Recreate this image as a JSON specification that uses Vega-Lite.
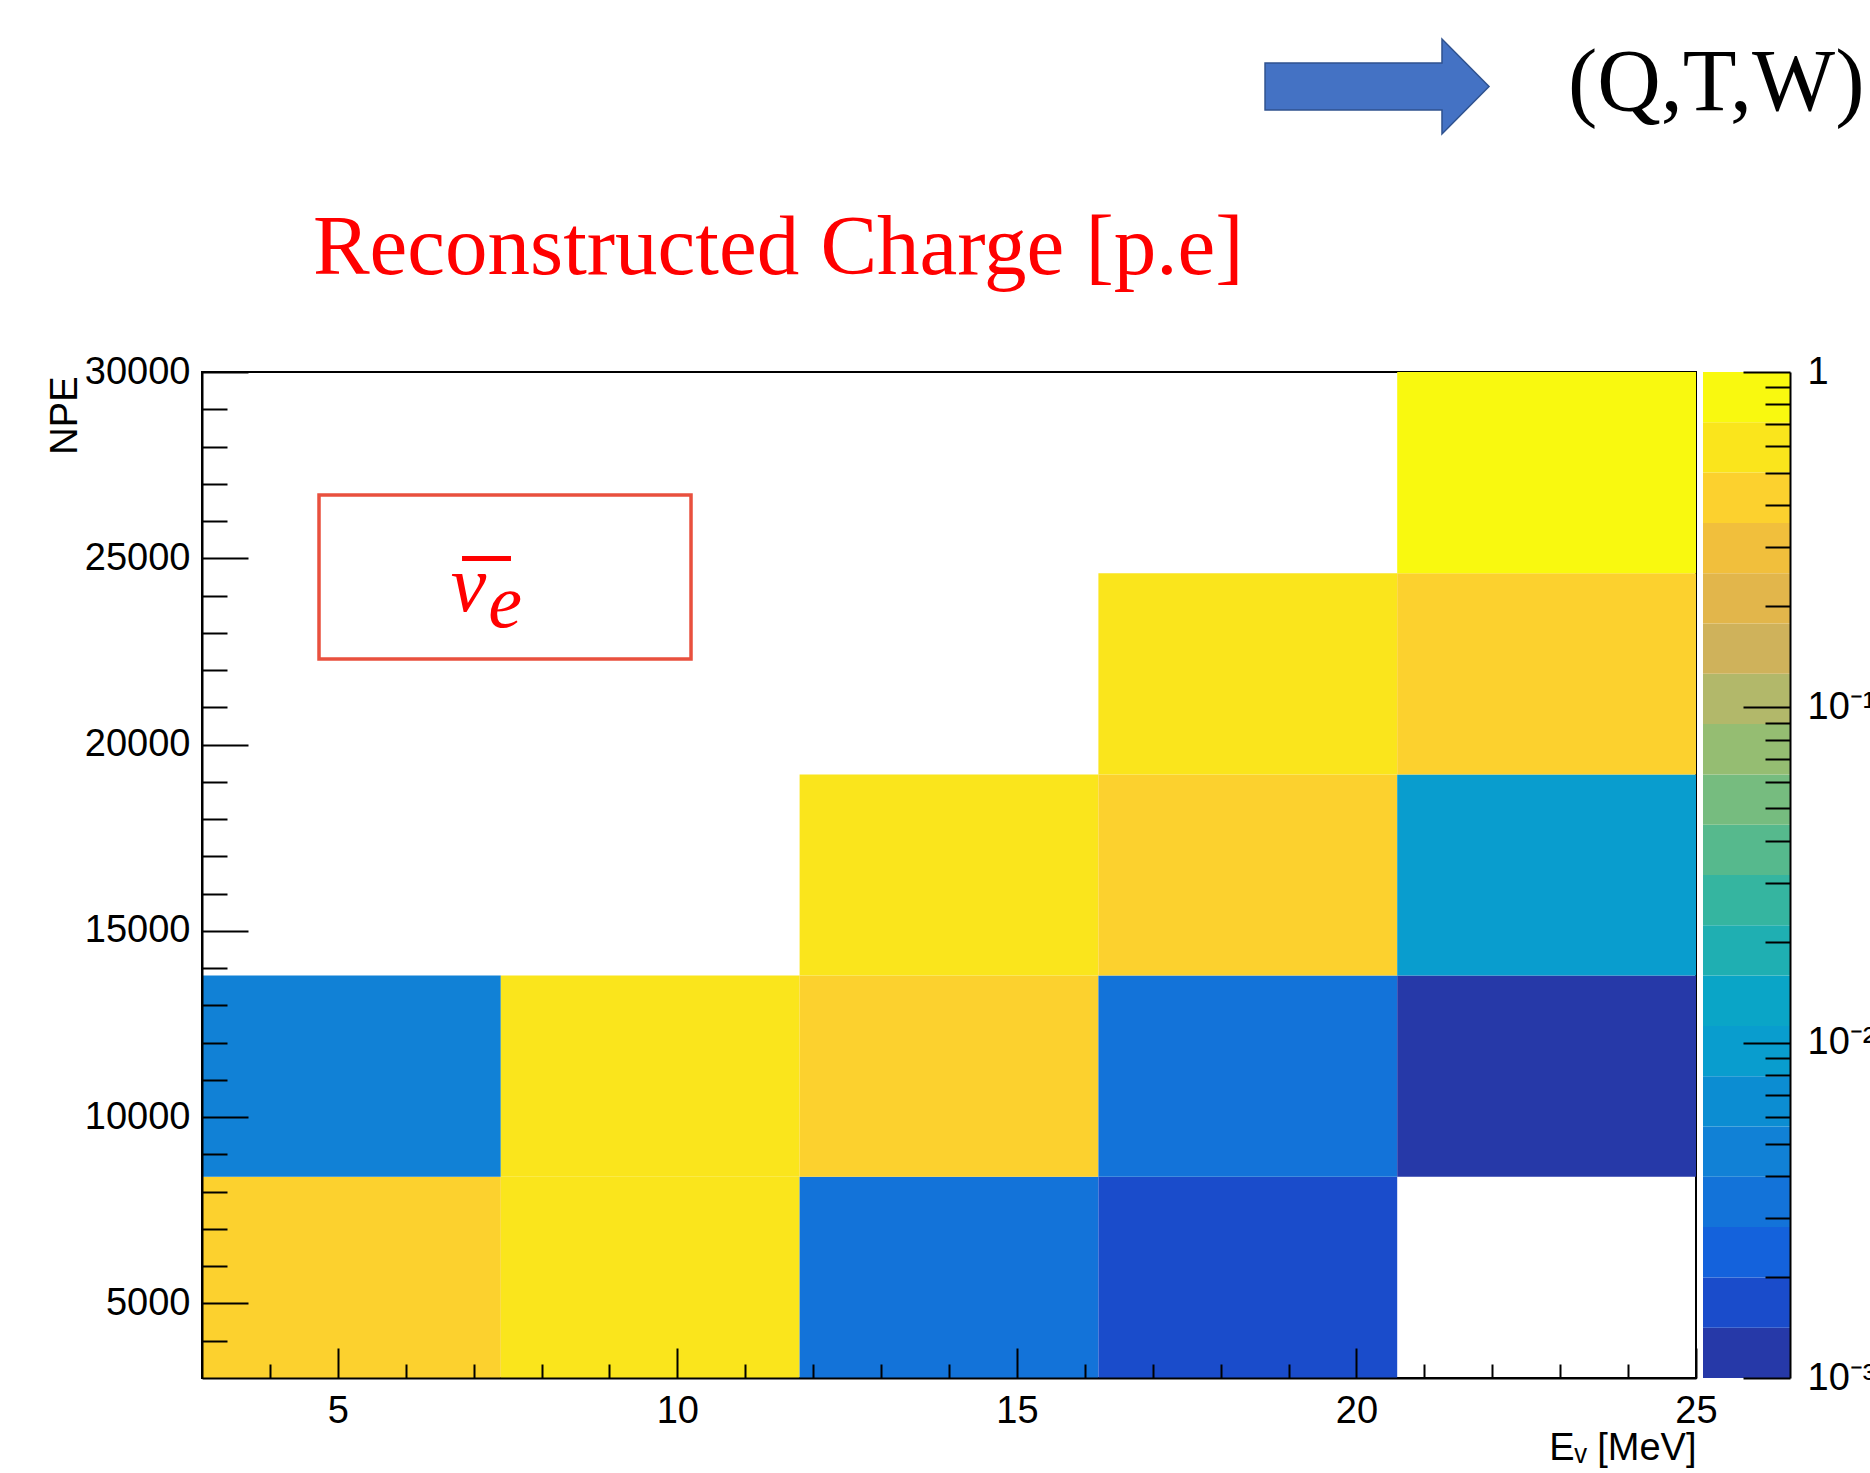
{
  "$schema": "https://vega.github.io/schema/vega-lite/v6.json",
  "width": 1494,
  "height": 1006,
  "autosize": {"type": "none"},
  "padding": {"left": 202, "top": 372, "right": 174, "bottom": 95},
  "background": "white",
  "config": {
    "view": {"stroke": "black", "strokeWidth": 2},
    "axis": {
      "grid": false,
      "labelFont": "Liberation Sans",
      "labelFontSize": 38,
      "labelColor": "black",
      "labelFlush": false,
      "labelOverlap": false,
      "tickColor": "black",
      "tickWidth": 2,
      "domainColor": "black",
      "domainWidth": 2,
      "titleFont": "Liberation Sans",
      "titleFontSize": 38,
      "titleFontWeight": "normal",
      "titleColor": "black"
    }
  },
  "datasets": {
    "cells": [
      {"e_lo": 3, "e_hi": 7.4, "npe_lo": 3000, "npe_hi": 8400, "z": 0.42},
      {"e_lo": 7.4, "e_hi": 11.8, "npe_lo": 3000, "npe_hi": 8400, "z": 0.6},
      {"e_lo": 11.8, "e_hi": 16.2, "npe_lo": 3000, "npe_hi": 8400, "z": 0.0033},
      {"e_lo": 16.2, "e_hi": 20.6, "npe_lo": 3000, "npe_hi": 8400, "z": 0.0017},
      {"e_lo": 3, "e_hi": 7.4, "npe_lo": 8400, "npe_hi": 13800, "z": 0.0047},
      {"e_lo": 7.4, "e_hi": 11.8, "npe_lo": 8400, "npe_hi": 13800, "z": 0.6},
      {"e_lo": 11.8, "e_hi": 16.2, "npe_lo": 8400, "npe_hi": 13800, "z": 0.42},
      {"e_lo": 16.2, "e_hi": 20.6, "npe_lo": 8400, "npe_hi": 13800, "z": 0.0033},
      {"e_lo": 20.6, "e_hi": 25, "npe_lo": 8400, "npe_hi": 13800, "z": 0.0012},
      {"e_lo": 11.8, "e_hi": 16.2, "npe_lo": 13800, "npe_hi": 19200, "z": 0.6},
      {"e_lo": 16.2, "e_hi": 20.6, "npe_lo": 13800, "npe_hi": 19200, "z": 0.42},
      {"e_lo": 20.6, "e_hi": 25, "npe_lo": 13800, "npe_hi": 19200, "z": 0.0095},
      {"e_lo": 16.2, "e_hi": 20.6, "npe_lo": 19200, "npe_hi": 24600, "z": 0.6},
      {"e_lo": 20.6, "e_hi": 25, "npe_lo": 19200, "npe_hi": 24600, "z": 0.42},
      {"e_lo": 20.6, "e_hi": 25, "npe_lo": 24600, "npe_hi": 30000, "z": 0.85}
    ],
    "bands": [
      {"lo": 0.001, "hi": 0.0014125},
      {"lo": 0.0014125, "hi": 0.0019953},
      {"lo": 0.0019953, "hi": 0.0028184},
      {"lo": 0.0028184, "hi": 0.0039811},
      {"lo": 0.0039811, "hi": 0.0056234},
      {"lo": 0.0056234, "hi": 0.0079433},
      {"lo": 0.0079433, "hi": 0.0112202},
      {"lo": 0.0112202, "hi": 0.0158489},
      {"lo": 0.0158489, "hi": 0.0223872},
      {"lo": 0.0223872, "hi": 0.0316228},
      {"lo": 0.0316228, "hi": 0.0446684},
      {"lo": 0.0446684, "hi": 0.0630957},
      {"lo": 0.0630957, "hi": 0.0891251},
      {"lo": 0.0891251, "hi": 0.1258925},
      {"lo": 0.1258925, "hi": 0.1778279},
      {"lo": 0.1778279, "hi": 0.2511886},
      {"lo": 0.2511886, "hi": 0.3548134},
      {"lo": 0.3548134, "hi": 0.5011872},
      {"lo": 0.5011872, "hi": 0.7079458},
      {"lo": 0.7079458, "hi": 1}
    ]
  },
  "layer": [
    {
      "layer": [
        {
          "data": {"name": "cells"},
          "mark": {"type": "rect"},
          "encoding": {
            "x": {"field": "e_lo", "type": "quantitative", "scale": {"domain": [3, 25], "nice": false, "zero": false},
              "axis": {"orient": "bottom", "zindex": 1, "values": [5, 10, 15, 20, 25], "tickSize": -30, "labelPadding": 44,
                "title": "Eᵥ [MeV]", "titleX": 1494, "titleY": 81, "titleAlign": "right", "titleBaseline": "alphabetic", "titleAngle": 0}},
            "x2": {"field": "e_hi"},
            "y": {"field": "npe_lo", "type": "quantitative", "scale": {"domain": [3000, 30000], "nice": false, "zero": false},
              "axis": {"orient": "left", "zindex": 1, "values": [5000, 10000, 15000, 20000, 25000, 30000], "format": "d", "tickSize": -46, "labelPadding": 58,
                "title": "NPE", "titleAngle": 270, "titleX": -126, "titleY": 4, "titleAlign": "right", "titleBaseline": "alphabetic"}},
            "y2": {"field": "npe_hi"},
            "color": {"field": "z", "type": "quantitative", "legend": null,
              "scale": {"type": "threshold",
                "domain": [0.0014125, 0.0019953, 0.0028184, 0.0039811, 0.0056234, 0.0079433, 0.0112202, 0.0158489, 0.0223872, 0.0316228, 0.0446684, 0.0630957, 0.0891251, 0.1258925, 0.1778279, 0.2511886, 0.3548134, 0.5011872, 0.7079458],
                "range": ["#2639A8", "#1A4CCB", "#1462DC", "#1373D9", "#1181D6", "#0C8DD2", "#099DCE", "#0AA5C7", "#1FAFB2", "#35B5A0", "#56B98D", "#76BC7F", "#95BD72", "#B2B86A", "#CFB25B", "#E2B64B", "#F1BF3C", "#FCD12E", "#FAE51C", "#F9F90F"]}}
          }
        },
        {
          "data": {"name": "cells"},
          "mark": {"type": "point", "opacity": 0},
          "encoding": {
            "x": {"field": "e_lo", "type": "quantitative", "scale": {"domain": [3, 25], "nice": false, "zero": false},
              "axis": {"orient": "bottom", "zindex": 1, "values": [4, 6, 7, 8, 9, 11, 12, 13, 14, 16, 17, 18, 19, 21, 22, 23, 24], "tickSize": -14, "labels": false, "domain": false, "title": null}},
            "y": {"field": "npe_lo", "type": "quantitative", "scale": {"domain": [3000, 30000], "nice": false, "zero": false},
              "axis": {"orient": "left", "zindex": 1, "values": [4000, 6000, 7000, 8000, 9000, 11000, 12000, 13000, 14000, 16000, 17000, 18000, 19000, 21000, 22000, 23000, 24000, 26000, 27000, 28000, 29000], "tickSize": -25, "labels": false, "domain": false, "title": null}}
          }
        },
        {
          "data": {"values": [{"label": "Reconstructed Charge [p.e]"}]},
          "mark": {"type": "text", "font": "Liberation Serif", "fontSize": 85, "color": "#FF0000", "align": "center", "baseline": "alphabetic"},
          "encoding": {
            "text": {"field": "label"},
            "x": {"datum": 11.486, "type": "quantitative", "scale": {"domain": [3, 25], "nice": false, "zero": false}, "axis": null},
            "y": {"datum": 32630, "type": "quantitative", "scale": {"domain": [3000, 30000], "nice": false, "zero": false}, "axis": null}
          }
        },
        {
          "data": {"values": [{"label": "(Q,T,W)"}]},
          "mark": {"type": "text", "font": "Liberation Serif", "fontSize": 88, "color": "black", "align": "left", "baseline": "alphabetic"},
          "encoding": {
            "text": {"field": "label"},
            "x": {"datum": 23.115, "type": "quantitative", "scale": {"domain": [3, 25], "nice": false, "zero": false}, "axis": null},
            "y": {"datum": 37032, "type": "quantitative", "scale": {"domain": [3000, 30000], "nice": false, "zero": false}, "axis": null}
          }
        },
        {
          "data": {"values": [{"label": "arrow"}]},
          "mark": {"type": "point", "shape": "M-1,-0.21L0.58,-0.21L0.58,-0.424L1,0L0.58,0.424L0.58,0.21L-1,0.21Z", "size": 50176, "filled": true, "fill": "#4472C4", "stroke": "#2F528F", "strokeWidth": 1.5, "opacity": 1},
          "encoding": {
            "x": {"datum": 20.303, "type": "quantitative", "scale": {"domain": [3, 25], "nice": false, "zero": false}, "axis": null},
            "y": {"datum": 37662, "type": "quantitative", "scale": {"domain": [3000, 30000], "nice": false, "zero": false}, "axis": null}
          }
        },
        {
          "data": {"values": [{"label": "box"}]},
          "mark": {"type": "rect", "fillOpacity": 0, "stroke": "#E9503E", "strokeWidth": 3.5},
          "encoding": {
            "x": {"datum": 4.723, "type": "quantitative", "scale": {"domain": [3, 25], "nice": false, "zero": false}, "axis": null},
            "x2": {"datum": 10.201},
            "y": {"datum": 26699, "type": "quantitative", "scale": {"domain": [3000, 30000], "nice": false, "zero": false}, "axis": null},
            "y2": {"datum": 22297}
          }
        },
        {
          "data": {"values": [{"label": "bar"}]},
          "mark": {"type": "rule", "color": "#FF0000", "strokeWidth": 5},
          "encoding": {
            "x": {"datum": 6.829, "type": "quantitative", "scale": {"domain": [3, 25], "nice": false, "zero": false}, "axis": null},
            "x2": {"datum": 7.55},
            "y": {"datum": 24995, "type": "quantitative", "scale": {"domain": [3000, 30000], "nice": false, "zero": false}, "axis": null}
          }
        },
        {
          "data": {"values": [{"label": "ν"}]},
          "mark": {"type": "text", "font": "Liberation Serif", "fontStyle": "italic", "fontSize": 80, "color": "#FF0000", "align": "center", "baseline": "alphabetic"},
          "encoding": {
            "text": {"field": "label"},
            "x": {"datum": 6.924, "type": "quantitative", "scale": {"domain": [3, 25], "nice": false, "zero": false}, "axis": null},
            "y": {"datum": 23585, "type": "quantitative", "scale": {"domain": [3000, 30000], "nice": false, "zero": false}, "axis": null}
          }
        },
        {
          "data": {"values": [{"label": "e"}]},
          "mark": {"type": "text", "font": "Liberation Serif", "fontStyle": "italic", "fontSize": 76, "color": "#FF0000", "align": "center", "baseline": "alphabetic"},
          "encoding": {
            "text": {"field": "label"},
            "x": {"datum": 7.462, "type": "quantitative", "scale": {"domain": [3, 25], "nice": false, "zero": false}, "axis": null},
            "y": {"datum": 23156, "type": "quantitative", "scale": {"domain": [3000, 30000], "nice": false, "zero": false}, "axis": null}
          }
        }
      ],
      "resolve": {"axis": {"x": "independent", "y": "independent"}}
    },
    {
      "layer": [
        {
          "data": {"name": "bands"},
          "mark": {"type": "rect"},
          "encoding": {
            "x": {"datum": 0, "type": "quantitative", "scale": {"domain": [0, 1], "range": [1501, 1588], "nice": false, "zero": false}, "axis": null},
            "x2": {"datum": 1},
            "y": {"field": "lo", "type": "quantitative", "scale": {"type": "log", "domain": [0.001, 1], "nice": false},
              "axis": {"orient": "right", "zindex": 1, "offset": 94, "values": [0.001, 0.01, 0.1, 1], "tickSize": -47, "labelPadding": 64,
                "labelExpr": "datum.value >= 0.5 ? '1' : datum.value >= 0.05 ? '10⁻¹' : datum.value >= 0.005 ? '10⁻²' : '10⁻³'", "title": null}},
            "y2": {"field": "hi"},
            "color": {"field": "lo", "type": "quantitative", "legend": null,
              "scale": {"type": "threshold",
                "domain": [0.0014125, 0.0019953, 0.0028184, 0.0039811, 0.0056234, 0.0079433, 0.0112202, 0.0158489, 0.0223872, 0.0316228, 0.0446684, 0.0630957, 0.0891251, 0.1258925, 0.1778279, 0.2511886, 0.3548134, 0.5011872, 0.7079458],
                "range": ["#2639A8", "#1A4CCB", "#1462DC", "#1373D9", "#1181D6", "#0C8DD2", "#099DCE", "#0AA5C7", "#1FAFB2", "#35B5A0", "#56B98D", "#76BC7F", "#95BD72", "#B2B86A", "#CFB25B", "#E2B64B", "#F1BF3C", "#FCD12E", "#FAE51C", "#F9F90F"]}}
          }
        },
        {
          "data": {"name": "bands"},
          "mark": {"type": "point", "opacity": 0},
          "encoding": {
            "x": {"datum": 0.5, "type": "quantitative", "scale": {"domain": [0, 1], "range": [1501, 1588], "nice": false, "zero": false}, "axis": null},
            "y": {"field": "lo", "type": "quantitative", "scale": {"type": "log", "domain": [0.001, 1], "nice": false},
              "axis": {"orient": "right", "zindex": 1, "offset": 94, "values": [0.002, 0.003, 0.004, 0.005, 0.006, 0.007, 0.008, 0.009, 0.02, 0.03, 0.04, 0.05, 0.06, 0.07, 0.08, 0.09, 0.2, 0.3, 0.4, 0.5, 0.6, 0.7, 0.8, 0.9], "tickSize": -25, "labels": false, "domain": false, "title": null}}
          }
        }
      ],
      "resolve": {"axis": {"x": "independent", "y": "independent"}}
    }
  ],
  "resolve": {"scale": {"x": "independent", "y": "independent"}}
}
